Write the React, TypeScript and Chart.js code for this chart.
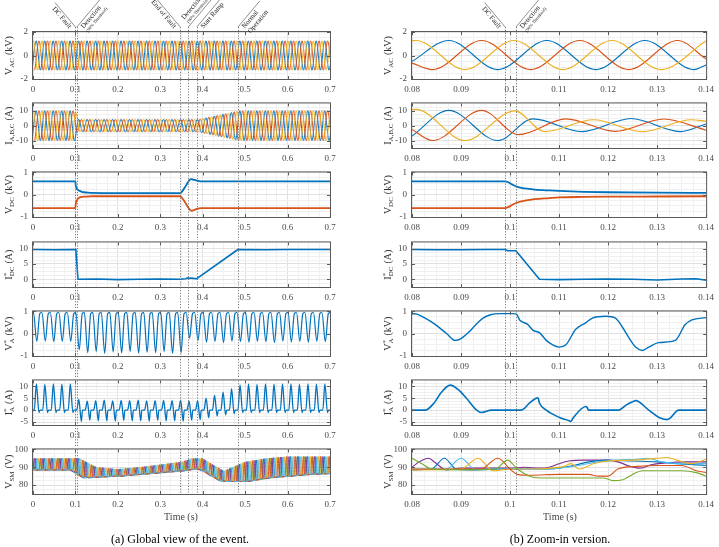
import React, { useEffect, useRef } from 'react';
import { Chart, registerables } from 'chart.js';

Chart.register(...registerables);

const SERIF = '"Liberation Serif", "Times New Roman", "DejaVu Serif", serif';
const TICK_COLOR = '#4a4a4a';
const TITLE_COLOR = '#333333';

const BLUE = '#0072BD';
const RED = '#D95319';
const YELLOW = '#EDB120';
const PURPLE = '#7E2F8E';
const GREEN = '#77AC30';
const CYAN = '#4DBEEE';

// ============================ DATA ============================
const MAINS_HALF_PERIOD = 0.01; // 50 Hz grid
const MAINS_PERIOD = 0.02;

// event markers (s)
const globalMarkers = [0.1, 0.1035, 0.347, 0.366, 0.386, 0.483];
const zoomMarkers = [0.099, 0.1012];

const globalAnnots = [
  { x: 0.1, side: 'L', below: true, lines: [{ t: 'DC Fault', size: 7 }] },
  { x: 0.1035, side: 'R', below: true, lines: [{ t: 'Detection', size: 7 }, { t: '(90% Threshold)', size: 4.5 }] },
  { x: 0.347, side: 'L', below: true, lines: [{ t: 'End of Fault', size: 7 }] },
  { x: 0.366, side: 'R', below: false, lines: [{ t: 'Detection', size: 7 }, { t: '(90% Threshold)', size: 4.5 }] },
  { x: 0.386, side: 'R', below: true, lines: [{ t: 'Start Ramp', size: 7 }] },
  { x: 0.483, side: 'R', below: true, lines: [{ t: 'Normal', size: 7 }, { t: 'Operation', size: 7 }] },
];
const zoomAnnots = [
  { x: 0.099, side: 'L', below: true, lines: [{ t: 'DC Fault', size: 7 }] },
  { x: 0.1012, side: 'R', below: true, lines: [{ t: 'Detection', size: 7 }, { t: '(90% Threshold)', size: 4.5 }] },
];

// ---------- (a) global view, 0 ... 0.7 s ----------
// V_AC (kV): first positive peak of phase [A, B, C] and amplitude envelope
const vacGlobalFirstPeak = [0.0075, 0.0142, 0.0008];
const vacGlobalEnvT = [0, 0.7];
const vacGlobalEnvV = [1.25, 1.25];

// I_A,B,C (A)
const iabcGlobalFirstPeak = [0.0075, 0.0142, 0.0008];
const iabcGlobalEnvT = [0, 0.1, 0.104, 0.39, 0.485, 0.7];
const iabcGlobalEnvV = [10, 10, 4.3, 4.3, 10, 10];

// V_DC (kV)
const vdcGlobalT = [0, 0.1, 0.1005, 0.1015, 0.103, 0.105, 0.108, 0.11, 0.115, 0.12, 0.13, 0.14, 0.2, 0.347, 0.352, 0.358, 0.364, 0.37, 0.374, 0.38, 0.386, 0.395, 0.7];
const vdcGlobalPos = [0.6, 0.6, 0.45, 0.35, 0.28, 0.23, 0.19, 0.17, 0.13, 0.11, 0.09, 0.08, 0.07, 0.07, 0.16, 0.33, 0.52, 0.68, 0.7, 0.66, 0.63, 0.6, 0.6];
const vdcGlobalNeg = [-0.6, -0.6, -0.45, -0.35, -0.27, -0.2, -0.15, -0.12, -0.1, -0.09, -0.08, -0.07, -0.07, -0.07, -0.16, -0.33, -0.52, -0.68, -0.72, -0.68, -0.64, -0.6, -0.6];

// I*_DC (A)
const idcGlobalT = [0, 0.05, 0.1, 0.1012, 0.106, 0.15, 0.2, 0.25, 0.3, 0.347, 0.36, 0.365, 0.368, 0.372, 0.386, 0.483, 0.55, 0.6, 0.7];
const idcGlobalV = [9.7, 9.6, 9.7, 9.3, 0, 0.1, -0.1, 0, 0.1, 0, 0.2, 0.5, 0.3, 0.4, 0.2, 9.7, 9.6, 9.7, 9.7];

// V*_A (kV): plateau level and trough of every mains cycle
const vStarAGlobalTop = 0.95;
const vStarAGlobalFirstTrough = 0.009;
const vStarAGlobalTroughs = [
  -0.35, -0.33, -0.36, -0.34, -0.35,
  -0.72, -0.85, -0.8, -0.88, -0.82, -0.86, -0.8, -0.87, -0.83, -0.85, -0.8, -0.88, -0.85,
  -0.2,
  -0.3, -0.38, -0.35, -0.4, -0.33, -0.36, -0.38, -0.34, -0.36, -0.4, -0.33, -0.37, -0.35, -0.38, -0.34, -0.36,
];

// I*_A (A): peak and trough of every mains cycle
const iStarAGlobalFirstPeak = 0.008;
const iStarAGlobalPeaks = [
  11, 10.8, 11, 10.9, 11,
  4.5, 3.8, 4, 4.2, 3.9, 4.1, 4, 4.2, 3.9, 4, 4.1, 4, 4.2, 3.8,
  4, 5, 6.2, 7.6, 9, 10.6,
  11, 10.8, 11, 10.9, 11, 11, 10.8, 11, 10.9, 11,
];
const iStarAGlobalTroughs = [
  -1, -1, -1, -1, -1,
  -4.8, -4.2, -4.5, -4.4, -4.6, -4.3, -4.5, -4.4, -4.6, -4.3, -4.5, -4.4, -4.6, -4.2,
  -4, -3.2, -2.5, -2, -1.5,
  -1, -1, -1, -1, -1, -1, -1, -1, -1, -1, -1,
];

// V_SM (V): low / high envelope of the capacitor voltages
const vsmGlobalEnvT = [0, 0.1, 0.11, 0.125, 0.15, 0.2, 0.25, 0.3, 0.35, 0.375, 0.4, 0.42, 0.45, 0.5, 0.55, 0.6, 0.65, 0.7];
const vsmGlobalLow = [88.5, 88.5, 86, 84, 84.5, 85, 86, 87, 88, 89, 89, 86, 82, 82, 84, 85, 86, 86.5];
const vsmGlobalHigh = [95, 95, 95, 93, 90, 89, 90, 91.5, 93, 95, 95, 92, 88, 93, 95, 96, 96, 96];
const vsmBumpOffset = [0.0033, 0.0066, 0.01, 0.0135, 0.0175, 0.0195];
const vsmColors = [PURPLE, BLUE, CYAN, YELLOW, RED, GREEN];

// ---------- (b) zoom, 0.08 ... 0.14 s ----------
const vacZoomTA = [0.08, 0.0875, 0.0975, 0.1075, 0.1175, 0.1275, 0.1375, 0.14];
const vacZoomA = [-0.5, 1.28, -1.2, 1.28, -1.2, 1.28, -1.2, -0.8];
const vacZoomTB = [0.08, 0.0842, 0.0942, 0.1042, 0.1142, 0.1242, 0.1342, 0.14];
const vacZoomB = [-0.65, -1.2, 1.28, -1.2, 1.28, -1.2, 1.28, -0.3];
const vacZoomTC = [0.08, 0.0808, 0.0908, 0.1008, 0.1108, 0.1208, 0.1308, 0.14];
const vacZoomC = [1.26, 1.28, -1.2, 1.28, -1.2, 1.28, -1.2, 1.25];

const iabcZoomTA = [0.08, 0.0875, 0.0975, 0.1047, 0.1147, 0.1247, 0.1347, 0.14];
const iabcZoomA = [-7, 10.3, -10, 4.6, -4, 4.8, -4, 1.2];
const iabcZoomTB = [0.08, 0.0842, 0.0942, 0.1018, 0.1114, 0.1214, 0.1314, 0.14];
const iabcZoomB = [-2.5, -10, 10.3, -6, 4.6, -3.8, 4.5, -3];
const iabcZoomTC = [0.08, 0.0808, 0.0908, 0.101, 0.107, 0.117, 0.127, 0.137, 0.14];
const iabcZoomC = [10.8, 11, -10, 10, -4, 4, -4, 4, 3];

const vdcZoomT = [0.08, 0.099, 0.0995, 0.1005, 0.1015, 0.103, 0.105, 0.108, 0.11, 0.115, 0.12, 0.13, 0.14];
const vdcZoomPos = [0.6, 0.6, 0.57, 0.45, 0.35, 0.28, 0.23, 0.19, 0.17, 0.13, 0.11, 0.09, 0.08];
const vdcZoomNeg = [-0.6, -0.6, -0.57, -0.45, -0.35, -0.27, -0.2, -0.15, -0.12, -0.1, -0.09, -0.08, -0.07];

const idcZoomT = [0.08, 0.085, 0.09, 0.095, 0.099, 0.0995, 0.1012, 0.106, 0.11, 0.115, 0.12, 0.125, 0.13, 0.135, 0.138, 0.14];
const idcZoomV = [9.7, 9.6, 9.6, 9.7, 9.7, 9.3, 9.3, 0, -0.1, 0, 0.1, 0, -0.2, 0.1, 0.2, -0.3];

const vStarAZoomT = [0.08, 0.081, 0.0825, 0.0845, 0.0871, 0.0888, 0.09, 0.0915, 0.093, 0.0945, 0.096, 0.098, 0.1006, 0.1013, 0.102, 0.1036, 0.1047, 0.106, 0.1074, 0.1087, 0.11, 0.1114, 0.1134, 0.1155, 0.1168, 0.1195, 0.1215, 0.1229, 0.1243, 0.1256, 0.127, 0.1283, 0.1303, 0.1337, 0.1357, 0.1371, 0.14];
const vStarAZoomV = [0.9, 0.88, 0.72, 0.45, 0, -0.3, -0.22, 0.05, 0.4, 0.7, 0.85, 0.9, 0.9, 0.88, 0.6, 0.42, 0.15, 0.05, -0.3, -0.5, -0.6, -0.5, 0.2, 0.5, 0.7, 0.78, 0.7, 0.3, -0.2, -0.6, -0.75, -0.6, -0.4, -0.3, 0.4, 0.62, 0.72];

const iStarAZoomT = [0.08, 0.0827, 0.0845, 0.086, 0.0878, 0.0895, 0.0911, 0.0932, 0.0942, 0.0962, 0.1023, 0.104, 0.1053, 0.1057, 0.106, 0.1074, 0.11, 0.1121, 0.1124, 0.1128, 0.1155, 0.1157, 0.116, 0.1222, 0.1236, 0.125, 0.1256, 0.1283, 0.1303, 0.132, 0.1326, 0.1344, 0.14];
const iStarAZoomV = [0, 0, 3, 7.5, 10.5, 8.5, 5, 0, -1, 0, 0, 3, 5, 5.2, 3, 0, -3, -4.5, -4.8, -3.5, 1.5, 1.2, 0, 0, 2, 3.5, 4, 0, -3, -4, -3.5, 0, 0];

const vsmZoomPurpleT = [0.08, 0.0815, 0.0833, 0.085, 0.087, 0.09, 0.095, 0.1, 0.103, 0.106, 0.108, 0.11, 0.112, 0.115, 0.118, 0.12, 0.122, 0.1245, 0.1265, 0.129, 0.132, 0.136, 0.14];
const vsmZoomPurpleV = [90, 93, 95, 92, 88.5, 89.5, 89.5, 89.5, 90, 89.5, 90, 92, 93.5, 94, 94, 94, 93, 90.5, 89.5, 91.5, 92.5, 93, 93];
const vsmZoomBlueT = [0.08, 0.084, 0.0866, 0.089, 0.092, 0.1, 0.105, 0.11, 0.113, 0.116, 0.12, 0.125, 0.13, 0.134, 0.14];
const vsmZoomBlueV = [88.5, 89, 95, 89, 88.5, 89, 89, 89.5, 91, 93, 94, 93.5, 93, 92, 91];
const vsmZoomCyanT = [0.08, 0.087, 0.09, 0.093, 0.096, 0.1, 0.106, 0.11, 0.114, 0.118, 0.122, 0.126, 0.128, 0.131, 0.135, 0.14];
const vsmZoomCyanV = [89, 89, 95, 88.5, 89, 89, 89, 89.5, 91, 93, 94, 94.5, 95, 93, 92, 92];
const vsmZoomYellowT = [0.08, 0.09, 0.0935, 0.0965, 0.1, 0.105, 0.108, 0.111, 0.1125, 0.114, 0.117, 0.12, 0.125, 0.13, 0.132, 0.134, 0.137, 0.14];
const vsmZoomYellowV = [88.5, 89, 95, 88, 89, 89, 89.5, 90.5, 92, 89, 92, 93.5, 94, 95, 95.5, 94, 92, 94.5];
const vsmZoomRedT = [0.08, 0.094, 0.0975, 0.1, 0.1015, 0.104, 0.11, 0.116, 0.118, 0.12, 0.122, 0.126, 0.13, 0.135, 0.138, 0.14];
const vsmZoomRedV = [89, 89, 95, 89, 86, 85.5, 86, 86, 85, 85, 89, 90.5, 91, 91, 88, 87];
const vsmZoomGreenT = [0.08, 0.082, 0.084, 0.09, 0.097, 0.0995, 0.1015, 0.104, 0.106, 0.11, 0.115, 0.119, 0.121, 0.123, 0.125, 0.127, 0.13, 0.135, 0.138, 0.14];
const vsmZoomGreenV = [95, 92, 89, 88.5, 89, 94, 89, 85, 84, 84, 84, 84, 82.5, 83, 86, 88, 88, 88, 87, 85];

// ============================ HELPERS ============================
type Pt = { x: number; y: number };
const zip = (ts: number[], vs: number[]): Pt[] => ts.map((t, i) => ({ x: t, y: vs[i] }));
const lerp = (ts: number[], vs: number[], t: number) => {
  if (t <= ts[0]) return vs[0];
  for (let i = 1; i < ts.length; i++) {
    if (t <= ts[i]) {
      const f = (t - ts[i - 1]) / (ts[i] - ts[i - 1]);
      return vs[i - 1] + f * (vs[i] - vs[i - 1]);
    }
  }
  return vs[vs.length - 1];
};

// extrema of a mains waveform (alternating peak / trough) following an envelope
function mainsExtrema(firstPeak: number, envT: number[], envV: number[], tEnd: number): Pt[] {
  const pts: Pt[] = [];
  let k = 0;
  let t = firstPeak - MAINS_HALF_PERIOD;
  while (t <= tEnd + MAINS_HALF_PERIOD) {
    const sign = k % 2 === 0 ? -1 : 1;
    pts.push({ x: t, y: sign * lerp(envT, envV, Math.max(0, t)) });
    k++;
    t = firstPeak - MAINS_HALF_PERIOD + k * MAINS_HALF_PERIOD;
  }
  return pts;
}

function vStarAGlobalPts(): Pt[] {
  const pts: Pt[] = [{ x: 0, y: vStarAGlobalTop }];
  vStarAGlobalTroughs.forEach((tr, k) => {
    const tt = vStarAGlobalFirstTrough + k * MAINS_PERIOD;
    pts.push({ x: tt - 0.008, y: vStarAGlobalTop }, { x: tt, y: tr }, { x: tt + 0.007, y: vStarAGlobalTop - 0.05 });
  });
  pts.push({ x: 0.7, y: vStarAGlobalTop });
  return pts;
}

function iStarAGlobalPts(): Pt[] {
  const pts: Pt[] = [{ x: 0, y: 0 }];
  iStarAGlobalPeaks.forEach((p, k) => {
    const pk = iStarAGlobalFirstPeak + k * MAINS_PERIOD;
    pts.push({ x: pk - 0.005, y: 0 }, { x: pk, y: p }, { x: pk + 0.006, y: iStarAGlobalTroughs[k] }, { x: pk + 0.0085, y: 0 });
  });
  pts.push({ x: 0.7, y: 0 });
  return pts;
}

function vsmGlobalPts(offset: number): Pt[] {
  const pts: Pt[] = [];
  for (let k = -1; k <= 36; k++) {
    const b = offset + k * MAINS_PERIOD;
    const lo = lerp(vsmGlobalEnvT, vsmGlobalLow, b);
    const hi = lerp(vsmGlobalEnvT, vsmGlobalHigh, b);
    pts.push({ x: b - 0.0035, y: lo }, { x: b, y: hi }, { x: b + 0.0035, y: lo });
  }
  return pts;
}

// ============================ LAYOUT ============================
const ROW_TOPS = [32, 101, 170, 240, 309, 378, 447];
const PLOT_H = 47;

type Seg = { t: string; k?: 'sub' | 'sup' | 'supsub'; t2?: string };
type Series = { pts: Pt[]; color: string; width: number; smooth: boolean };
type Annot = { x: number; side: string; below: boolean; lines: { t: string; size: number }[] };
type PanelSpec = {
  key: string; row: number; left: number; w: number; top: number; h: number;
  padTop: number; padLeft: number; padRight: number; xAxisH: number;
  xMin: number; xMax: number; xMinor: number; xMajor: number;
  yMin: number; yMax: number; yMinor: number; yMajor: number;
  title: Seg[]; titleX: number; markers: number[]; annots: Annot[]; series: Series[];
};

const COLS = {
  g: { left: 0, w: 360, padLeft: 33, padRight: 30, xMin: 0, xMax: 0.7, xMinor: 0.025, xMajor: 0.1, titleX: 8, markers: globalMarkers, annots: globalAnnots },
  z: { left: 360, w: 359, padLeft: 52, padRight: 11, xMin: 0.08, xMax: 0.14, xMinor: 0.0025, xMajor: 0.01, titleX: 27, markers: zoomMarkers, annots: zoomAnnots },
};

function panel(col: 'g' | 'z', row: number, y: [number, number, number, number], title: Seg[], series: Series[]): PanelSpec {
  const c = COLS[col];
  const plotTop = ROW_TOPS[row];
  const top = row === 0 ? 0 : plotTop - 8;
  const padTop = plotTop - top;
  const xAxisH = row < 6 ? ROW_TOPS[row + 1] - (plotTop + PLOT_H) : 22;
  return {
    key: col + row, row, left: c.left, w: c.w, top, h: padTop + PLOT_H + xAxisH,
    padTop, padLeft: c.padLeft, padRight: c.padRight, xAxisH,
    xMin: c.xMin, xMax: c.xMax, xMinor: c.xMinor, xMajor: c.xMajor,
    yMin: y[0], yMax: y[1], yMinor: y[2], yMajor: y[3],
    title, titleX: c.titleX, markers: c.markers, annots: row === 0 ? (c.annots as Annot[]) : [], series,
  };
}

const T_VAC: Seg[] = [{ t: 'V' }, { t: 'AC', k: 'sub' }, { t: ' (kV)' }];
const T_IABC: Seg[] = [{ t: 'I' }, { t: 'A,B,C', k: 'sub' }, { t: ' (A)' }];
const T_VDC: Seg[] = [{ t: 'V' }, { t: 'DC', k: 'sub' }, { t: ' (kV)' }];
const T_IDC: Seg[] = [{ t: 'I' }, { t: '*', k: 'supsub', t2: 'DC' }, { t: ' (A)' }];
const T_VSA: Seg[] = [{ t: 'V' }, { t: '*', k: 'supsub', t2: 'A' }, { t: ' (kV)' }];
const T_ISA: Seg[] = [{ t: 'I' }, { t: '*', k: 'supsub', t2: 'A' }, { t: ' (A)' }];
const T_VSM: Seg[] = [{ t: 'V' }, { t: 'SM', k: 'sub' }, { t: ' (V)' }];

const R_VAC: [number, number, number, number] = [-2, 2, 0.5, 2];
const R_IABC: [number, number, number, number] = [-15, 15, 2.5, 10];
const R_VDC: [number, number, number, number] = [-1, 1, 0.25, 1];
const R_IDC: [number, number, number, number] = [-2.5, 12, 1.25, 5];
const R_VSA: [number, number, number, number] = [-1, 1, 0.25, 1];
const R_ISA: [number, number, number, number] = [-6.25, 12.5, 1.25, 5];
const R_VSM: [number, number, number, number] = [75, 100, 2.5, 10];

const phaseCols = [BLUE, RED, YELLOW];

function buildPanels(): PanelSpec[] {
  const P: PanelSpec[] = [];
  // ---- global
  P.push(panel('g', 0, R_VAC, T_VAC, [2, 1, 0].map((i) => ({ pts: mainsExtrema(vacGlobalFirstPeak[i], vacGlobalEnvT, vacGlobalEnvV, 0.7), color: phaseCols[i], width: 1, smooth: true }))));
  P.push(panel('g', 1, R_IABC, T_IABC, [2, 1, 0].map((i) => ({ pts: mainsExtrema(iabcGlobalFirstPeak[i], iabcGlobalEnvT, iabcGlobalEnvV, 0.7), color: phaseCols[i], width: 1, smooth: true }))));
  P.push(panel('g', 2, R_VDC, T_VDC, [
    { pts: zip(vdcGlobalT, vdcGlobalPos), color: BLUE, width: 1.8, smooth: true },
    { pts: zip(vdcGlobalT, vdcGlobalNeg), color: RED, width: 1.8, smooth: true },
  ]));
  P.push(panel('g', 3, R_IDC, T_IDC, [{ pts: zip(idcGlobalT, idcGlobalV), color: BLUE, width: 1.6, smooth: false }]));
  P.push(panel('g', 4, R_VSA, T_VSA, [{ pts: vStarAGlobalPts(), color: BLUE, width: 1.2, smooth: true }]));
  P.push(panel('g', 5, R_ISA, T_ISA, [{ pts: iStarAGlobalPts(), color: BLUE, width: 1.3, smooth: true }]));
  const vsmOrder = [2, 4, 0, 3, 5, 1];
  P.push(panel('g', 6, R_VSM, T_VSM, vsmOrder.map((i) => ({ pts: vsmGlobalPts(vsmBumpOffset[i]), color: vsmColors[i], width: 0.9, smooth: true }))));
  // ---- zoom
  P.push(panel('z', 0, R_VAC, T_VAC, [
    { pts: zip(vacZoomTC, vacZoomC), color: YELLOW, width: 1.1, smooth: true },
    { pts: zip(vacZoomTB, vacZoomB), color: RED, width: 1.1, smooth: true },
    { pts: zip(vacZoomTA, vacZoomA), color: BLUE, width: 1.1, smooth: true },
  ]));
  P.push(panel('z', 1, R_IABC, T_IABC, [
    { pts: zip(iabcZoomTC, iabcZoomC), color: YELLOW, width: 1.1, smooth: true },
    { pts: zip(iabcZoomTB, iabcZoomB), color: RED, width: 1.1, smooth: true },
    { pts: zip(iabcZoomTA, iabcZoomA), color: BLUE, width: 1.1, smooth: true },
  ]));
  P.push(panel('z', 2, R_VDC, T_VDC, [
    { pts: zip(vdcZoomT, vdcZoomPos), color: BLUE, width: 1.8, smooth: true },
    { pts: zip(vdcZoomT, vdcZoomNeg), color: RED, width: 1.8, smooth: true },
  ]));
  P.push(panel('z', 3, R_IDC, T_IDC, [{ pts: zip(idcZoomT, idcZoomV), color: BLUE, width: 1.6, smooth: false }]));
  P.push(panel('z', 4, R_VSA, T_VSA, [{ pts: zip(vStarAZoomT, vStarAZoomV), color: BLUE, width: 1.4, smooth: true }]));
  P.push(panel('z', 5, R_ISA, T_ISA, [{ pts: zip(iStarAZoomT, iStarAZoomV), color: BLUE, width: 1.6, smooth: true }]));
  P.push(panel('z', 6, R_VSM, T_VSM, [
    { pts: zip(vsmZoomGreenT, vsmZoomGreenV), color: GREEN, width: 1.1, smooth: true },
    { pts: zip(vsmZoomRedT, vsmZoomRedV), color: RED, width: 1.1, smooth: true },
    { pts: zip(vsmZoomYellowT, vsmZoomYellowV), color: YELLOW, width: 1.1, smooth: true },
    { pts: zip(vsmZoomCyanT, vsmZoomCyanV), color: CYAN, width: 1.1, smooth: true },
    { pts: zip(vsmZoomBlueT, vsmZoomBlueV), color: BLUE, width: 1.1, smooth: true },
    { pts: zip(vsmZoomPurpleT, vsmZoomPurpleV), color: PURPLE, width: 1.1, smooth: true },
  ]));
  return P;
}

// ============================ DRAWING ============================
const isMaj = (v: number, m: number) => Math.abs(v / m - Math.round(v / m)) < 1e-6;
const fmt = (v: number) => String(Number(v.toFixed(4)));

function drawTitle(ctx: CanvasRenderingContext2D, segs: Seg[], cx: number, cy: number) {
  const big = `10px ${SERIF}`;
  const small = `7px ${SERIF}`;
  const widths = segs.map((s) => {
    if (!s.k) { ctx.font = big; return ctx.measureText(s.t).width; }
    ctx.font = small;
    return Math.max(ctx.measureText(s.t).width, s.t2 ? ctx.measureText(s.t2).width : 0) + 0.5;
  });
  const total = widths.reduce((a, b) => a + b, 0);
  ctx.save();
  ctx.translate(cx, cy);
  ctx.rotate(-Math.PI / 2);
  ctx.fillStyle = TITLE_COLOR;
  ctx.textAlign = 'left';
  ctx.textBaseline = 'alphabetic';
  let x = -total / 2;
  const base = 3.5;
  segs.forEach((s, i) => {
    if (!s.k) { ctx.font = big; ctx.fillText(s.t, x, base); }
    else if (s.k === 'sub') { ctx.font = small; ctx.fillText(s.t, x, base + 2.5); }
    else if (s.k === 'sup') { ctx.font = small; ctx.fillText(s.t, x, base - 4); }
    else { ctx.font = small; ctx.fillText(s.t, x, base - 3.5); ctx.fillText(s.t2 || '', x, base + 2.8); }
    x += widths[i];
  });
  ctx.restore();
}

function drawAnnot(ctx: CanvasRenderingContext2D, px: number, y0: number, a: Annot) {
  const ang = (50 * Math.PI) / 180;
  ctx.save();
  ctx.translate(px, y0);
  ctx.rotate(a.side === 'L' ? ang : -ang);
  let w = 0;
  a.lines.forEach((l) => { ctx.font = `${l.size}px ${SERIF}`; w = Math.max(w, ctx.measureText(l.t).width); });
  const dir = a.side === 'L' ? -1 : 1;
  ctx.setLineDash([]);
  ctx.strokeStyle = '#555';
  ctx.lineWidth = 0.6;
  ctx.beginPath();
  ctx.moveTo(0, 0);
  ctx.lineTo(dir * (w + 6), 0);
  ctx.stroke();
  ctx.fillStyle = '#222';
  ctx.textAlign = a.side === 'L' ? 'right' : 'left';
  const x = dir * 3;
  if (a.below) {
    let y = 1;
    a.lines.forEach((l) => { ctx.font = `${l.size}px ${SERIF}`; ctx.textBaseline = 'top'; ctx.fillText(l.t, x, y); y += l.size + 0.5; });
  } else {
    let y = -1;
    [...a.lines].reverse().forEach((l) => { ctx.font = `${l.size}px ${SERIF}`; ctx.textBaseline = 'bottom'; ctx.fillText(l.t, x, y); y -= l.size + 0.5; });
  }
  ctx.restore();
}

function makeDeco(s: PanelSpec) {
  return {
    id: 'deco' + s.key,
    afterDraw(chart: any) {
      const ctx: CanvasRenderingContext2D = chart.ctx;
      const { left, right, top, bottom } = chart.chartArea;
      const xs = chart.scales.x;
      const ys = chart.scales.y;
      ctx.save();
      // box
      ctx.strokeStyle = '#5a5a5a';
      ctx.lineWidth = 1;
      ctx.strokeRect(left - 0.5, top - 0.5, right - left + 1, bottom - top + 1);
      // inner tick marks
      ctx.beginPath();
      for (let v = s.xMin; v <= s.xMax + 1e-9; v += s.xMinor) {
        if (!isMaj(v, s.xMajor)) continue;
        const px = Math.round(xs.getPixelForValue(v)) + 0.5;
        ctx.moveTo(px, bottom); ctx.lineTo(px, bottom - 3);
        ctx.moveTo(px, top); ctx.lineTo(px, top + 3);
      }
      for (let v = s.yMin; v <= s.yMax + 1e-9; v += s.yMinor) {
        if (!isMaj(v, s.yMajor)) continue;
        const py = Math.round(ys.getPixelForValue(v)) + 0.5;
        ctx.moveTo(left, py); ctx.lineTo(left + 3, py);
        ctx.moveTo(right, py); ctx.lineTo(right - 3, py);
      }
      ctx.stroke();
      // event markers
      const y0 = s.row === 0 ? 27 : top;
      const y1 = s.row === 6 ? bottom : chart.height;
      ctx.strokeStyle = '#6e6e6e';
      ctx.lineWidth = 0.9;
      ctx.setLineDash([1.2, 1.6]);
      s.markers.forEach((m) => {
        const px = Math.round(xs.getPixelForValue(m)) + 0.5;
        ctx.beginPath();
        ctx.moveTo(px, y0);
        ctx.lineTo(px, y1);
        ctx.stroke();
      });
      ctx.setLineDash([]);
      s.annots.forEach((a) => drawAnnot(ctx, xs.getPixelForValue(a.x), 27, a));
      drawTitle(ctx, s.title, s.titleX, (top + bottom) / 2);
      ctx.restore();
    },
  };
}

function buildConfig(s: PanelSpec): any {
  const axisCommon = (min: number, max: number, minor: number, major: number) => ({
    type: 'linear',
    min, max,
    border: { display: false },
    grid: {
      drawTicks: false,
      lineWidth: 1,
      color: (c: any) => (c.tick && isMaj(c.tick.value, major) ? '#e1e1e1' : '#f0f0f0'),
    },
    ticks: {
      stepSize: minor,
      autoSkip: false,
      maxRotation: 0,
      minRotation: 0,
      padding: 5,
      color: TICK_COLOR,
      font: { family: SERIF, size: 9 },
      callback: (v: number) => (isMaj(v, major) ? fmt(v) : ''),
    },
  });
  return {
    type: 'line',
    data: {
      datasets: s.series.map((se) => ({
        data: se.pts,
        borderColor: se.color,
        borderWidth: se.width,
        pointRadius: 0,
        pointHoverRadius: 0,
        fill: false,
        tension: 0,
        cubicInterpolationMode: se.smooth ? 'monotone' : 'default',
        borderJoinStyle: 'round',
      })),
    },
    options: {
      responsive: false,
      animation: false,
      events: [],
      devicePixelRatio: 1,
      layout: { padding: { top: s.padTop, right: s.padRight, left: 0, bottom: 0 } },
      plugins: { legend: { display: false }, tooltip: { enabled: false }, title: { display: false } },
      scales: {
        x: { ...axisCommon(s.xMin, s.xMax, s.xMinor, s.xMajor), afterFit: (a: any) => { a.height = s.xAxisH; } },
        y: { ...axisCommon(s.yMin, s.yMax, s.yMinor, s.yMajor), afterFit: (a: any) => { a.width = s.padLeft; } },
      },
    },
    plugins: [makeDeco(s)],
  };
}

function Panel({ spec }: { spec: PanelSpec }) {
  const ref = useRef<HTMLCanvasElement>(null);
  useEffect(() => {
    const chart = new Chart(ref.current as HTMLCanvasElement, buildConfig(spec));
    return () => chart.destroy();
  }, []);
  return (
    <canvas
      ref={ref}
      width={spec.w}
      height={spec.h}
      style={{ position: 'absolute', left: spec.left, top: spec.top, width: spec.w, height: spec.h }}
    />
  );
}

const PANELS = buildPanels();

export default function App() {
  const label = (text: string, cx: number, top: number, size: number, color: string) => (
    <div
      style={{
        position: 'absolute', left: cx - 150, top, width: 300, textAlign: 'center',
        fontFamily: SERIF, fontSize: size, color, lineHeight: `${size + 2}px`, whiteSpace: 'nowrap',
      }}
    >
      {text}
    </div>
  );
  return (
    <div style={{ position: 'absolute', left: 0, top: 0, width: 719, height: 547, background: '#ffffff', overflow: 'hidden' }}>
      {PANELS.map((p) => <Panel key={p.key} spec={p} />)}
      {label('Time (s)', 181, 511, 10, '#444')}
      {label('Time (s)', 560, 511, 10, '#444')}
      {label('(a) Global view of the event.', 180, 532, 12, '#000')}
      {label('(b) Zoom-in version.', 560, 532, 12, '#000')}
    </div>
  );
}
